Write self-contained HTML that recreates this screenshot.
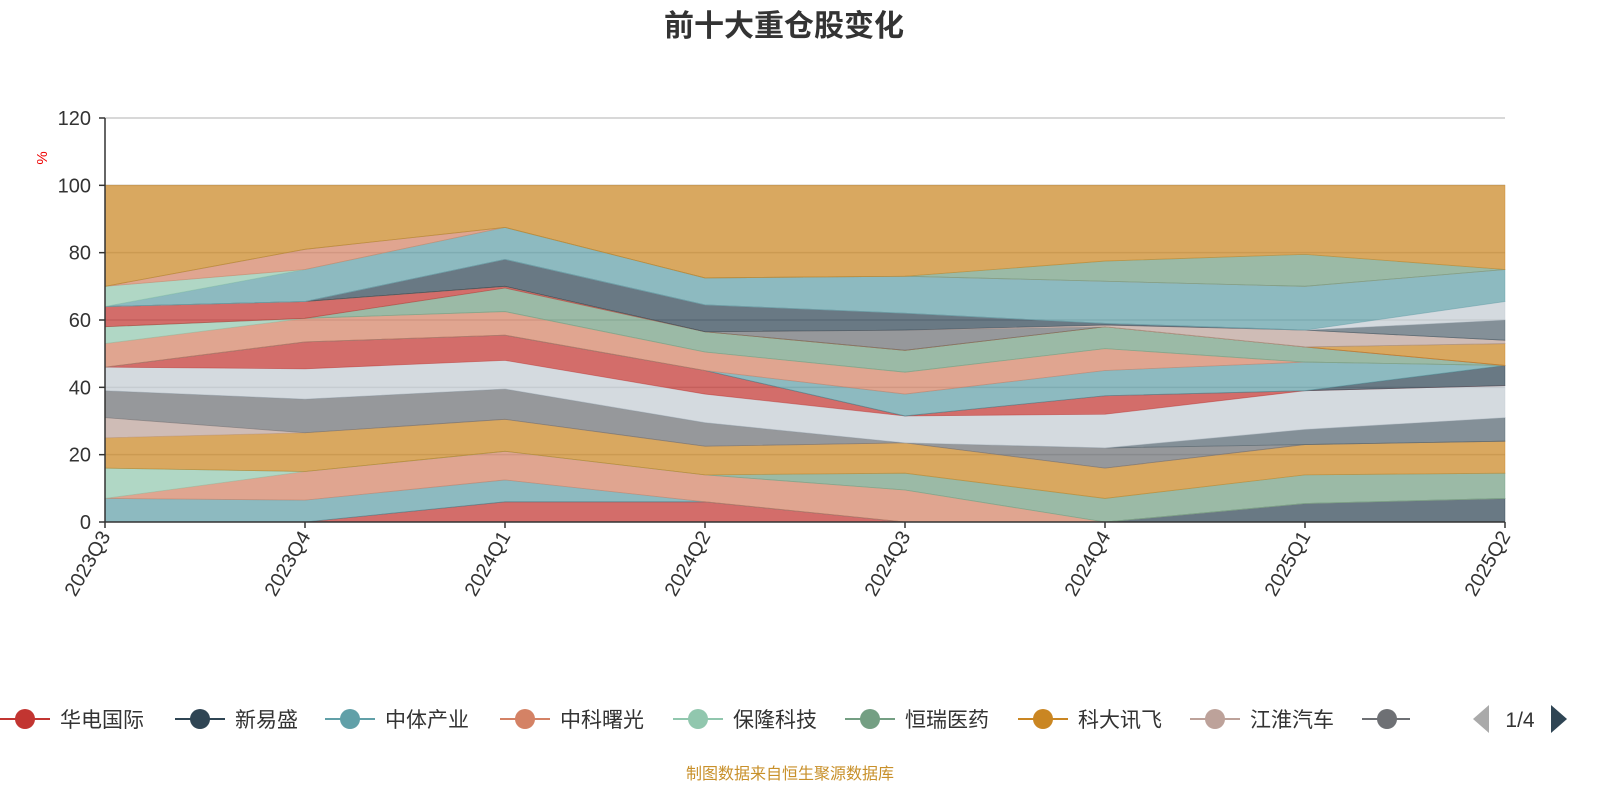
<!DOCTYPE html>
<html><head><meta charset="utf-8"><style>
body{margin:0;background:#fff;}
svg{display:block;font-family:"Liberation Sans","Noto Sans CJK SC",sans-serif;}
</style></head><body>
<svg id="chart" width="1600" height="800">
<text x="784" y="36" text-anchor="middle" font-size="30" font-weight="bold" fill="#333">前十大重仓股变化</text>
<text x="47" y="158" font-size="15" fill="#e00" transform="rotate(-90 47 158)" text-anchor="middle">%</text>
<g id="grid"></g>
<g id="areas"></g>
<g id="axes"></g>
<g id="legend"></g>
<text x="790" y="779" text-anchor="middle" font-size="16" fill="#c8902a">制图数据来自恒生聚源数据库</text>
</svg>
<script>
const categories=["2023Q3","2023Q4","2024Q1","2024Q2","2024Q3","2024Q4","2025Q1","2025Q2"];
const yTicks=[0,20,40,60,80,100,120];
const seriesNames=["华电国际","新易盛","中体产业","中科曙光","保隆科技","恒瑞医药","科大讯飞","江淮汽车","华工科技","海光信息","胜宏科技","沪电股份","宁德时代","中际旭创","赛力斯","立讯精密","比亚迪","工业富联","寒武纪","牧原股份","中国平安","紫金矿业","招商银行","长江电力","美的集团","贵州茅台","五粮液","科大讯飞II"];
const seriesColors=["#c23531","#2f4554","#61a0a8","#d48265","#91c7ae","#749f83","#ca8622","#bda29a","#6e7074","#546570","#c4ccd3","#c23531","#2f4554","#61a0a8","#d48265","#91c7ae","#749f83","#c23531","#ca8622","#6e7074","#bda29a","#2f4554","#546570","#c4ccd3","#61a0a8","#91c7ae","#d48265","#749f83"];
const s0=[0,0,6,6,0,0,0,0];
const s1=[0,0,0,0,0,0,5.5,7];
const s2=[7,6.5,6.5,0,0,0,0,0];
const s3=[0,8.5,8.5,8,9.5,0,0,0];
const s4=[9,0,0,0,0,0,0,0];
const s5=[0,0,0,0,5,7,8.5,7.5];
const s6=[9,11.5,9.5,8.5,9,9,9,9.5];
const s7=[6,0,0,0,0,0,0,0];
const s8=[8,10,9,7,0,6,0,0];
const s8b=[0,0,0,0,0,0,4.5,7];
const s9=[7,9,8.5,8.5,8,10,11.5,9.5];
const s10=[0,8,7.5,7,0,5.5,0,0];
const s11=[0,0,0,0,0,0,0,6];
const s12=[0,0,0,0,6.5,7.5,8.5,0];
const s13=[7,7,7,5.5,6.5,6.5,0,0];
const s14=[5,0,0,0,0,0,0,0];
const s15=[0,0,7,6,6.5,6.5,4.5,0];
const s16=[6,5,0.5,0,0,0,0,0];
const s17=[0,0,0,0,0,0,0,6.5];
const s18=[0,0,0,0,6,0,0,0];
const s19=[0,0,0,0,0,0.5,5,1];
const s20=[0,0,8,8,5,0.5,0,0];
const s21=[0,0,0,0,0,0,0,6];
const s22=[0,0,0,0,0,0,0,5.5];
const s23=[0,9.5,9.5,8,11,12.5,13,9.5];
const s24=[6,0,0,0,0,0,0,0];
const s25=[0,6,0,0,0,0,0,0];
const s26=[0,0,0,0,0,6,9.5,0];
const seriesValues=[s0,s1,s2,s3,s4,s5,s6,s7,s8,s8b,s9,s10,s11,s12,s13,s14,s15,s16,s17,s18,s19,s20,s21,s22,s23,s24,s25,s26];
const legendNames=["华电国际","新易盛","中体产业","中科曙光","保隆科技","恒瑞医药","科大讯飞","江淮汽车","华"];
const legendColors=["#c23531","#2f4554","#61a0a8","#d48265","#91c7ae","#749f83","#ca8622","#bda29a","#6e7074"];

const NS="http://www.w3.org/2000/svg";
const X0=105,X1=1505,Y0=522,Y1=118;
const xs=i=>X0+i*(X1-X0)/(categories.length-1);
const ys=v=>Y0-v*(Y0-Y1)/120;
function mk(tag,attrs,parent){const e=document.createElementNS(NS,tag);for(const k in attrs)e.setAttribute(k,attrs[k]);parent.appendChild(e);return e;}
const gridG=document.getElementById('grid'),areasG=document.getElementById('areas'),axesG=document.getElementById('axes'),legendG=document.getElementById('legend');
yTicks.forEach(t=>{if(t===0)return;const l=mk('line',{x1:X0,x2:X1,y1:ys(t),y2:ys(t),stroke:'#ccc','stroke-width':1.5},gridG);

});
const cum=categories.map(()=>0);
const allSeries=seriesValues.slice();
const topVals=categories.map((c,i)=>100-seriesValues.reduce((a,s)=>a+s[i],0));
allSeries.push(topVals);
allSeries.forEach((vals,si)=>{
  const lower=cum.slice();
  vals.forEach((v,i)=>cum[i]+=v);
  let d='M'+categories.map((c,i)=>xs(i)+','+ys(cum[i])).join(' L');
  for(let i=categories.length-1;i>=0;i--)d+=' L'+xs(i)+','+ys(lower[i]);
  d+='Z';
  const color=si<seriesColors.length?seriesColors[si]:'#ca8622';
  const p=mk('path',{d:d,fill:color,'fill-opacity':0.72,stroke:color,'stroke-opacity':0.5,'stroke-width':0.8},areasG);
  
  
});
const ya=mk('line',{x1:X0,x2:X0,y1:Y1,y2:Y0,stroke:'#333','stroke-width':1.5},axesG);


const xa=mk('line',{x1:X0,x2:X1,y1:Y0,y2:Y0,stroke:'#333','stroke-width':1.5},axesG);


yTicks.forEach(t=>{
  const tk=mk('line',{x1:X0-6,x2:X0,y1:ys(t),y2:ys(t),stroke:'#333','stroke-width':1.5},axesG);
  
  
  const tx=mk('text',{x:X0-14,y:ys(t)+7,'text-anchor':'end','font-size':20,fill:'#333'},axesG);
  tx.textContent=t;
  
  
});
categories.forEach((c,i)=>{
  const tk=mk('line',{x1:xs(i),x2:xs(i),y1:Y0,y2:Y0+6,stroke:'#333','stroke-width':1.5},axesG);
  
  
  const x=xs(i)+6,y=Y0+14;
  const tx=mk('text',{x:x,y:y,'text-anchor':'end','font-size':20,fill:'#333',transform:`rotate(-60 ${x} ${y})`},axesG);
  tx.textContent=c;
  
  
});
const lx=[0,175,325,500,673,845,1018,1190,1362];
legendNames.forEach((n,i)=>{
  const g=mk('g',{},legendG);
  
  
  mk('line',{x1:lx[i],x2:lx[i]+50,y1:719,y2:719,stroke:legendColors[i],'stroke-width':2},g);
  mk('circle',{cx:lx[i]+25,cy:719,r:10,fill:legendColors[i]},g);
  const t=mk('text',{x:lx[i]+60,y:727,'font-size':21,fill:'#333'},g);
  t.textContent=n;
});
const cover=mk('rect',{x:1410,y:700,width:190,height:40,fill:'#fff'},legendG);


const pl=mk('polygon',{points:'1473,719 1489,705 1489,733',fill:'#aaa'},legendG);


const pt=mk('text',{x:1520,y:727,'text-anchor':'middle','font-size':21,fill:'#333'},legendG);
pt.textContent='1/4';


const pr=mk('polygon',{points:'1567,719 1551,705 1551,733',fill:'#2f4554'},legendG);


</script>
</body></html>
